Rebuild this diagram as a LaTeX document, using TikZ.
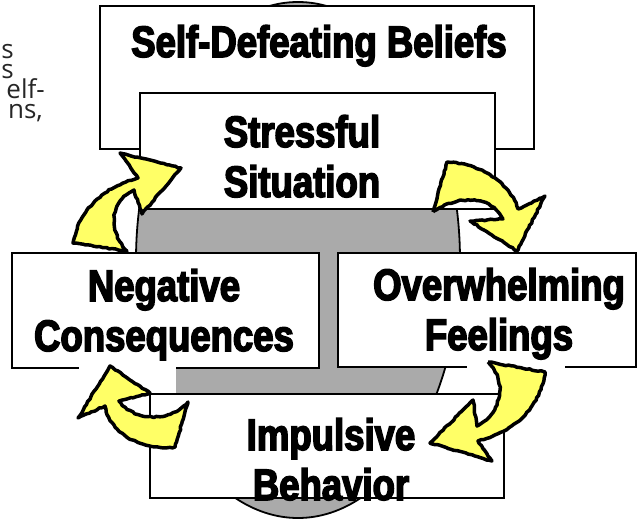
\documentclass[tikz,border=0pt]{standalone}
\usepackage{fontspec}
\usepackage{tikz}
\usetikzlibrary{positioning,decorations.pathmorphing}
\newfontfamily\posterfont[FakeStretch=0.83,FakeBold=3.5]{Liberation Sans}
\newfontfamily\notefont{Open Sans}
\definecolor{disc}{HTML}{AAAAAA}
\definecolor{sun}{HTML}{FFFF66}

\begin{document}
\begin{tikzpicture}[x=1pt,y=-1pt,
    panel/.style={draw,line width=1.8pt,fill=white,inner sep=0pt,anchor=north west},
    words/.style={font=\posterfont\bfseries\fontsize{44}{50}\selectfont,
                  align=center,anchor=base,inner sep=0pt},
    swirl/.style={fill=sun,draw=black,line width=3.5pt,line join=round,
                  decorate,decoration={random steps,segment length=3pt,amplitude=0.6pt}},
    aside/.style={font=\notefont\fontsize{26}{20}\selectfont,text=black!85,
                  anchor=base east,inner sep=0pt}]
    \pgfmathsetseed{11}
    \useasboundingbox (0,0) rectangle (638,525);
    % grey disc behind the cycle
    \draw[fill=disc,line width=1.8pt] (298,260) ellipse [x radius=162pt,y radius=258pt];

    % cut-off lines of the slide text
    \node[aside] (rest1) at (14,58) {s};
    \node[aside] (rest2) at (14,78) {s};
    \node[aside] (rest3) at (45,98) {elf-};
    \node[aside] (rest4) at (43,118) {ns,};

    \node[panel,minimum width=434pt,minimum height=143pt] (beliefs) at (99,5) {};
    \node[panel,minimum width=355pt,minimum height=116pt] (stress) at (139,92) {};
    \node[panel,minimum width=307pt,minimum height=115pt] (negcon) at (11,252) {};
    \node[panel,minimum width=298pt,minimum height=114pt] (feelings) at (337,252) {};
    % white backs of the clip-art arrows
    \fill[white] (79,365) rectangle (176,448);
    \fill[white] (467,364) rectangle (565,462);
    \node[panel,minimum width=354pt,minimum height=104pt] (impulse) at (149,393) {};

    % the four turning arrows
    \draw[swirl] (433,212) -- (447,162) .. controls (480,163) and (510,183) .. (518,209)
        -- (545,196) -- (517,251) -- (470,221) -- (503,219)
        .. controls (494,199) and (462,192) .. (433,212) -- cycle;
    \draw[swirl] (488,362) -- (545,372) .. controls (540,410) and (512,432) .. (478,441)
        -- (492,461) -- (430,443) -- (473,400) -- (477,426)
        .. controls (498,415) and (510,385) .. (488,362) -- cycle;
    \draw[swirl] (188,402) .. controls (170,422) and (135,422) .. (119,401)
        -- (150,393) -- (110,366) -- (78,418) -- (105,406)
        .. controls (112,440) and (150,450) .. (175,447) -- cycle;
    \draw[swirl] (73,243) .. controls (80,205) and (110,185) .. (138,178)
        -- (120,153) -- (181,168) -- (142,214) -- (134,190)
        .. controls (112,200) and (106,228) .. (127,251) -- cycle;

    \node[words] (beliefstext) at (319,57) {Self-Defeating Beliefs};
    \node[words] (stresstext) at (302,197) {Stressful\\Situation};
    \node[words] (negcontext) at (164,351) {Negative\\Consequences};
    \node[words] (feelingstext) at (499,350) {Overwhelming\\Feelings};
    \node[words] (impulsetext) at (331,500) {Impulsive\\Behavior};
\end{tikzpicture}
\end{document}
